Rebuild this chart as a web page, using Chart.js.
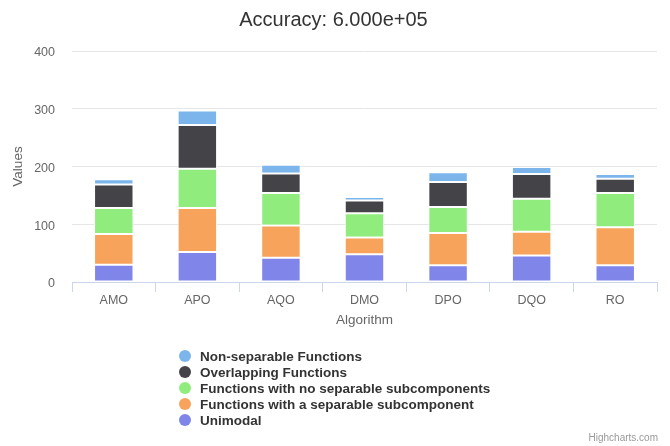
<!DOCTYPE html>
<html>
<head>
<meta charset="utf-8">
<script src="https://cdn.jsdelivr.net/npm/chart.js@4/dist/chart.umd.min.js"></script>
<style>
  html, body { margin: 0; padding: 0; background: #fff; }
  #wrap { width: 670px; height: 446px; position: relative; }
</style>
</head>
<body>
<div id="wrap"><canvas id="c" width="670" height="446"></canvas></div>
<script>
const categories = ["AMO", "APO", "AQO", "DMO", "DPO", "DQO", "RO"];
const unimodal        = [30, 52, 42, 48, 29, 46, 29];
const separableSub    = [53, 76, 56, 29, 56, 41, 66];
const noSeparableSub  = [45, 68, 56, 42, 45, 57, 59];
const overlapping     = [41, 76, 34, 22, 43, 43, 25];
const nonSeparable    = [9, 25, 15, 6, 17, 12, 8];
const yTicks = [0, 100, 200, 300, 400];

const FONT = "'Liberation Sans', Arial, sans-serif";

const series = [
  { label: "Unimodal", data: unimodal, color: "#8085e9" },
  { label: "Functions with a separable subcomponent", data: separableSub, color: "#f7a35c" },
  { label: "Functions with no separable subcomponents", data: noSeparableSub, color: "#90ed7d" },
  { label: "Overlapping Functions", data: overlapping, color: "#434348" },
  { label: "Non-separable Functions", data: nonSeparable, color: "#7cb5ec" }
];

const customLegend = {
  id: "customLegend",
  afterDraw(chart) {
    const ctx = chart.ctx;
    ctx.save();
    const x0 = 185, y0 = 356, step = 16;
    const items = chart.data.datasets.slice().reverse();
    ctx.font = "bold 13.5px " + FONT;
    ctx.textBaseline = "middle";
    ctx.textAlign = "left";
    items.forEach((ds, i) => {
      const y = y0 + i * step;
      ctx.beginPath();
      ctx.arc(x0, y, 6, 0, Math.PI * 2);
      ctx.fillStyle = ds.backgroundColor;
      ctx.fill();
      ctx.fillStyle = "#333333";
      ctx.fillText(ds.label, x0 + 15, y + 1);
    });
    ctx.font = "10px " + FONT;
    ctx.fillStyle = "#999999";
    ctx.textAlign = "right";
    ctx.textBaseline = "alphabetic";
    ctx.fillText("Highcharts.com", 658, 441);
    ctx.restore();
  }
};

new Chart(document.getElementById("c"), {
  type: "bar",
  data: {
    labels: categories,
    datasets: series.map(s => ({
      label: s.label,
      data: s.data,
      backgroundColor: s.color,
      borderColor: "#ffffff",
      borderWidth: 1,
      borderSkipped: false,
      categoryPercentage: 0.8,
      barPercentage: 0.59
    }))
  },
  options: {
    responsive: false,
    animation: false,
    devicePixelRatio: 1,
    layout: { padding: { left: 10, right: 13, top: 0, bottom: 118 } },
    plugins: {
      legend: { display: false },
      tooltip: { enabled: false },
      title: {
        display: true,
        text: "Accuracy: 6.000e+05",
        color: "#333333",
        font: { family: FONT, size: 20, weight: "normal" },
        padding: { top: 8, bottom: 19 }
      }
    },
    scales: {
      x: {
        stacked: true,
        afterFit(axis) { axis.height = 46; },
        border: { display: true, color: "#ccd6eb", width: 1 },
        grid: {
          display: true,
          offset: true,
          drawOnChartArea: false,
          drawTicks: true,
          tickLength: 10,
          tickColor: "#ccd6eb"
        },
        ticks: {
          color: "#666666",
          font: { family: FONT, size: 12.5 },
          padding: 1
        },
        title: {
          display: true,
          text: "Algorithm",
          color: "#666666",
          font: { family: FONT, size: 13.5 },
          padding: { top: 4, bottom: 0 }
        }
      },
      y: {
        stacked: true,
        min: 0,
        max: 400,
        afterBuildTicks(axis) { axis.ticks = yTicks.map(v => ({ value: v })); },
        afterFit(axis) { axis.width = 62; },
        border: { display: false },
        grid: { color: "#e6e6e6", drawTicks: false },
        ticks: {
          color: "#666666",
          font: { family: FONT, size: 12.5 },
          padding: 17,
          labelOffset: 2
        },
        title: {
          display: true,
          text: "Values",
          color: "#666666",
          font: { family: FONT, size: 13.5 },
          padding: { top: 0, bottom: 0 }
        }
      }
    }
  },
  plugins: [customLegend]
});
</script>
</body>
</html>
